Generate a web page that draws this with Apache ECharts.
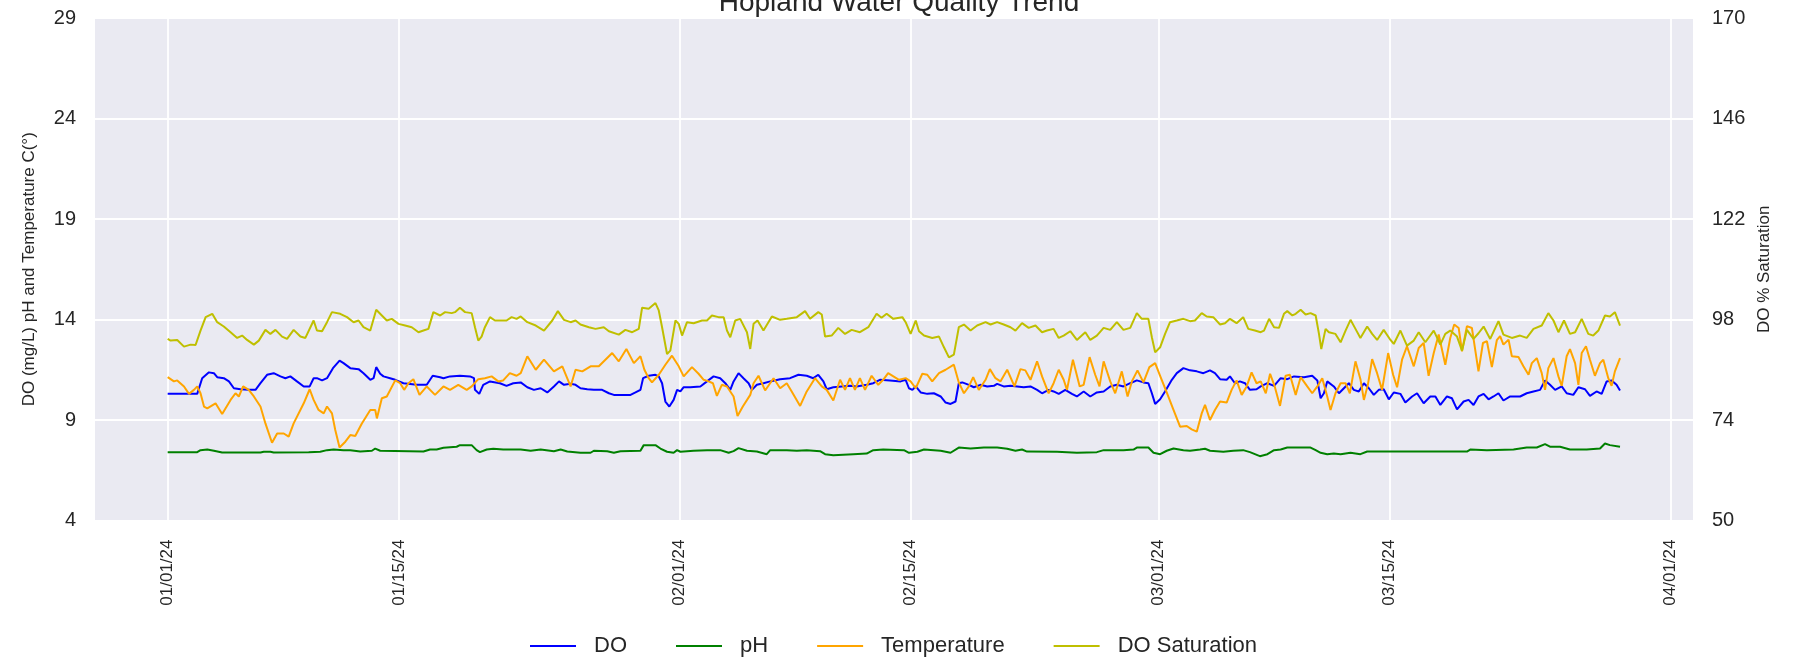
<!DOCTYPE html>
<html><head><meta charset="utf-8">
<script src="https://cdn.jsdelivr.net/npm/echarts@6/dist/echarts.min.js"></script>
<style>html,body{margin:0;padding:0;background:#fff}#c{width:1806px;height:661px}</style>
</head><body><div id="c"></div>
<script>
// x values are days since 2024-01-01
const tickDays = [0,14,31,45,60,74,91];
const tickLabels = ['01/01/24','01/15/24','02/01/24','02/15/24','03/01/24','03/15/24','04/01/24'];
const seriesNames = ['DO','pH','Temperature','DO Saturation'];

const doData = [[0,10.30],[1.79,10.30],[2.09,11.08],[2.50,11.37],[2.80,11.33],[3.00,11.13],[3.40,11.08],[3.71,10.92],[4.01,10.58],[4.41,10.53],[4.91,10.50],[5.32,10.50],[5.62,10.83],[6.02,11.25],[6.42,11.33],[6.83,11.17],[7.13,11.08],[7.43,11.17],[7.83,10.92],[8.24,10.67],[8.60,10.67],[8.84,11.08],[9.04,11.08],[9.35,10.97],[9.65,11.08],[10.01,11.58],[10.41,11.95],[10.65,11.83],[11.06,11.58],[11.56,11.53],[11.86,11.33],[12.27,11.00],[12.47,11.08],[12.63,11.63],[12.87,11.30],[13.07,11.17],[13.47,11.08],[13.78,11.00],[14.28,10.83],[15.09,10.75],[15.69,10.75],[16.05,11.20],[16.50,11.13],[16.70,11.08],[17.10,11.17],[17.70,11.20],[18.31,11.17],[18.55,11.08],[18.61,10.50],[18.87,10.30],[19.11,10.75],[19.52,10.92],[20.12,10.83],[20.52,10.70],[20.93,10.83],
[21.38,10.87],[21.78,10.63],[22.18,10.50],[22.59,10.58],[22.99,10.37],[23.39,10.67],[23.70,10.92],[24.00,10.75],[24.40,10.80],[24.70,10.75],[25.00,10.58],[25.41,10.53],[25.81,10.50],[26.31,10.50],[26.72,10.33],[27.02,10.25],[28.03,10.25],[28.33,10.37],[28.63,10.50],[28.79,11.08],[29.13,11.20],[29.54,11.25],[29.74,11.17],[29.94,10.83],[30.14,9.92],[30.38,9.67],[30.64,10.00],[30.85,10.50],[31.05,10.42],[31.25,10.63],[31.65,10.63],[32.26,10.67],[32.66,10.92],[33.06,11.17],[33.46,11.08],[33.77,10.83],[34.07,10.50],[34.27,10.92],[34.57,11.33],[34.87,11.08],[35.18,10.83],[35.38,10.50],[35.68,10.75],[36.08,10.83],[36.49,10.92],[37.09,11.03],[37.69,11.08],[38.20,11.25],[38.70,11.20],[39.10,11.08],[39.40,11.25],[39.71,10.92],[39.91,10.53],[40.31,10.63],[40.82,10.67],[41.32,10.70],[41.72,10.67],[42.33,10.75],[42.73,10.83],[43.13,11.00],[43.74,10.97],
[44.39,10.92],[44.69,11.00],[44.89,10.58],[45.10,10.50],[45.30,10.67],[45.60,10.37],[46.00,10.30],[46.40,10.33],[46.81,10.17],[47.11,9.87],[47.41,9.80],[47.71,9.92],[47.91,10.83],[48.12,10.87],[48.52,10.75],[48.82,10.63],[49.22,10.75],[49.63,10.67],[50.03,10.70],[50.23,10.80],[50.63,10.67],[51.04,10.70],[51.44,10.67],[51.84,10.63],[52.25,10.67],[52.65,10.50],[52.95,10.33],[53.35,10.50],[53.65,10.42],[53.96,10.30],[54.36,10.50],[54.76,10.30],[55.06,10.17],[55.47,10.42],[55.87,10.17],[56.27,10.37],[56.68,10.42],[57.08,10.67],[57.48,10.75],[57.88,10.67],[58.29,10.83],[58.69,10.97],[59.09,10.87],[59.39,10.83],[59.60,10.33],[59.80,9.80],[60.10,10.03],[60.40,10.42],[60.81,11.00],[61.11,11.33],[61.51,11.58],[61.91,11.47],[62.32,11.42],[62.72,11.33],[63.12,11.47],[63.42,11.33],[63.73,11.03],[64.13,11.00],[64.33,11.17],[64.63,10.83],[64.93,10.92],[65.24,10.83],[65.54,10.50],[65.94,10.53],
[66.19,10.67],[66.60,10.83],[67.00,10.70],[67.40,11.08],[67.80,11.03],[68.21,11.17],[68.81,11.13],[69.31,11.20],[69.62,10.97],[69.82,10.08],[70.02,10.33],[70.22,10.92],[70.62,10.67],[70.93,10.33],[71.23,10.58],[71.53,10.83],[71.83,10.50],[72.13,10.42],[72.44,10.83],[72.74,10.58],[73.04,10.25],[73.34,10.50],[73.64,10.53],[73.95,10.03],[74.25,10.37],[74.65,10.30],[74.95,9.87],[75.36,10.17],[75.66,10.33],[76.06,9.83],[76.46,10.17],[76.77,10.17],[77.07,9.75],[77.47,10.17],[77.77,10.08],[78.08,9.53],[78.48,9.92],[78.78,10.00],[79.08,9.75],[79.38,10.17],[79.69,10.30],[79.99,10.03],[80.29,10.17],[80.59,10.33],[80.89,9.97],[81.30,10.17],[81.90,10.17],[82.30,10.33],[82.71,10.42],[83.11,10.50],[83.41,10.97],[83.71,10.75],[84.02,10.50],[84.42,10.67],[84.72,10.33],[85.12,10.25],[85.43,10.63],[85.83,10.53],[86.13,10.20],[86.53,10.42],[86.84,10.30],[87.14,10.92],[87.44,10.97],[87.74,10.75],[87.95,10.47]];

const phData = [[0,7.40],[1.79,7.40],[1.99,7.50],[2.40,7.53],[2.80,7.47],[3.30,7.38],[5.62,7.38],[5.82,7.42],[6.22,7.42],[6.42,7.38],[8.54,7.40],[8.64,7.45],[9.24,7.42],[9.65,7.50],[10.05,7.53],[10.65,7.50],[11.06,7.50],[11.66,7.43],[12.37,7.47],[12.57,7.58],[12.87,7.47],[15.49,7.43],[15.89,7.53],[16.29,7.53],[16.70,7.62],[17.50,7.67],[17.70,7.75],[18.41,7.75],[18.71,7.50],[18.91,7.40],[19.32,7.53],[19.72,7.57],[20.32,7.53],
[21.38,7.53],[21.98,7.47],[22.59,7.53],[23.39,7.45],[23.80,7.53],[24.20,7.43],[25.00,7.37],[25.61,7.37],[25.81,7.47],[26.62,7.45],[27.02,7.37],[27.42,7.45],[28.63,7.47],[28.83,7.75],[29.54,7.75],[29.84,7.58],[30.24,7.42],[30.64,7.37],[30.85,7.50],[31.05,7.42],[31.85,7.47],[32.66,7.50],[33.46,7.50],[33.97,7.37],[34.27,7.45],[34.57,7.60],[35.08,7.47],[35.68,7.43],[36.28,7.30],[36.49,7.50],[37.49,7.50],[38.10,7.47],[38.70,7.50],[39.51,7.45],[39.81,7.30],[40.31,7.25],[41.52,7.30],[42.33,7.33],[42.73,7.50],[43.33,7.53],
[44.59,7.50],[44.89,7.37],[45.40,7.42],[45.80,7.53],[46.81,7.47],[47.41,7.37],[47.91,7.63],[48.62,7.58],[49.43,7.63],[50.23,7.63],[50.84,7.57],[51.34,7.47],[51.74,7.53],[52.04,7.43],[53.86,7.42],[55.06,7.37],[56.27,7.40],[56.68,7.50],[57.88,7.50],[58.49,7.53],[58.69,7.63],[59.39,7.63],[59.70,7.37],[60.10,7.30],[60.50,7.47],[60.91,7.58],[61.51,7.50],[61.91,7.47],[62.52,7.53],[62.82,7.57],[63.12,7.47],[63.93,7.42],[64.53,7.47],[65.13,7.50],[65.54,7.40],[66.14,7.20],
[66.60,7.30],[67.00,7.50],[67.40,7.53],[67.80,7.63],[69.21,7.63],[69.52,7.50],[69.82,7.37],[70.22,7.30],[70.62,7.33],[71.03,7.30],[71.63,7.37],[72.23,7.30],[72.64,7.43],[78.68,7.43],[78.88,7.53],[79.89,7.50],[81.50,7.53],[82.30,7.63],[82.91,7.63],[83.41,7.80],[83.71,7.67],[84.32,7.67],[84.92,7.53],[85.93,7.53],[86.74,7.58],[87.04,7.83],[87.34,7.75],[87.95,7.67]];

const tempData = [[0,11.13],[0.38,10.92],[0.58,10.97],[0.99,10.67],[1.29,10.30],[1.59,10.50],[1.79,10.67],[1.99,10.33],[2.20,9.67],[2.40,9.58],[2.90,9.83],[3.30,9.30],[3.81,10.00],[4.11,10.33],[4.31,10.17],[4.57,10.67],[4.91,10.50],[5.22,10.17],[5.62,9.67],[5.92,8.83],[6.32,7.87],[6.63,8.33],[7.03,8.33],[7.33,8.17],[7.63,8.83],[8.24,9.83],[8.60,10.53],[8.84,10.00],[9.14,9.50],[9.45,9.33],[9.65,9.67],[9.95,9.33],[10.15,8.50],[10.41,7.63],[10.76,7.92],[11.06,8.25],[11.36,8.20],[11.76,8.83],[12.27,9.50],[12.57,9.50],[12.67,9.08],[12.97,10.08],[13.27,10.17],[13.78,10.97],[14.08,10.83],[14.32,10.50],[14.58,10.83],[14.88,11.03],[15.25,10.25],[15.69,10.67],[16.19,10.25],[16.70,10.67],[17.10,10.50],[17.60,10.75],[18.11,10.50],[18.41,10.67],[18.81,11.03],[19.21,11.08],[19.62,11.17],[20.02,10.92],[20.32,10.97],[20.72,11.33],[21.13,11.20],
[21.38,11.33],[21.78,12.17],[22.29,11.50],[22.79,12.00],[23.39,11.42],[23.90,11.67],[24.40,10.67],[24.70,11.50],[25.11,11.42],[25.61,11.67],[26.11,11.67],[26.92,12.33],[27.32,11.92],[27.78,12.53],[28.23,11.83],[28.63,12.17],[28.87,11.50],[29.13,11.08],[29.33,10.87],[29.74,11.25],[30.14,11.75],[30.54,12.20],[30.95,11.67],[31.25,11.17],[31.75,11.63],[32.15,11.30],[32.46,11.00],[32.76,10.92],[33.02,10.83],[33.26,10.20],[33.56,10.75],[33.87,10.67],[34.27,10.17],[34.51,9.20],[34.83,9.67],[35.28,10.25],[35.48,10.83],[35.78,11.20],[36.18,10.47],[36.69,11.08],[37.09,10.58],[37.49,10.83],[37.79,10.42],[38.30,9.70],[38.70,10.42],[39.20,11.08],[39.61,10.67],[39.91,10.50],[40.31,9.97],[40.72,11.00],[41.02,10.50],[41.32,11.08],[41.62,10.50],[41.92,11.08],[42.23,10.50],[42.63,11.20],[43.03,10.75],[43.33,11.00],[43.63,11.33],
[44.29,11.00],[44.69,11.08],[44.99,10.92],[45.30,10.58],[45.70,11.30],[46.00,11.25],[46.30,10.92],[46.71,11.33],[47.11,11.50],[47.61,11.75],[47.91,10.87],[48.22,10.33],[48.52,10.67],[48.78,11.13],[49.12,10.50],[49.53,11.00],[49.79,11.53],[50.13,11.08],[50.43,10.92],[50.84,11.50],[51.28,10.67],[51.64,11.53],[51.94,11.47],[52.25,11.00],[52.65,11.92],[52.95,11.17],[53.35,10.33],[53.65,10.83],[53.96,11.50],[54.26,11.00],[54.46,10.50],[54.82,12.00],[55.23,10.67],[55.47,10.75],[55.83,12.13],[56.17,11.25],[56.43,10.67],[56.68,11.92],[57.08,10.92],[57.38,10.33],[57.78,11.42],[58.13,10.17],[58.39,10.92],[58.73,11.47],[59.09,10.87],[59.45,11.63],[59.80,11.83],[60.10,11.20],[60.50,10.37],[60.91,9.50],[61.31,8.67],[61.71,8.70],[62.01,8.53],[62.32,8.42],[62.62,9.33],[62.82,9.75],[63.12,9.00],[63.42,9.50],[63.73,9.92],[64.13,9.87],[64.43,10.50],[64.73,10.97],[65.04,10.25],[65.34,10.67],[65.64,11.37],[65.94,10.83],
[66.19,10.92],[66.50,10.33],[66.76,11.30],[67.04,10.67],[67.36,9.70],[67.70,11.20],[67.96,11.25],[68.31,10.25],[68.61,11.13],[69.01,10.67],[69.31,10.33],[69.62,10.67],[69.92,11.08],[70.22,10.17],[70.42,9.50],[70.72,10.33],[71.03,10.83],[71.33,10.83],[71.59,10.33],[71.93,11.92],[72.23,11.03],[72.44,10.00],[72.68,10.75],[72.94,12.03],[73.24,11.33],[73.54,10.50],[73.91,12.33],[74.21,11.25],[74.45,10.63],[74.75,12.00],[75.05,12.67],[75.46,11.67],[75.76,12.58],[76.06,12.83],[76.36,11.20],[76.67,12.33],[76.97,13.25],[77.37,11.75],[77.67,13.08],[77.91,13.75],[78.18,13.58],[78.38,12.42],[78.68,13.67],[78.98,13.58],[79.38,11.42],[79.65,12.83],[79.89,12.92],[80.19,11.63],[80.49,12.97],[80.69,13.17],[80.89,12.75],[81.20,13.00],[81.40,12.17],[81.80,12.13],[82.10,11.67],[82.41,11.25],[82.61,11.83],[82.91,12.08],[83.21,11.33],[83.41,10.50],[83.61,11.58],[83.92,12.08],[84.22,11.17],[84.42,10.70],[84.72,12.17],[84.92,12.53],[85.23,11.83],[85.43,10.75],[85.63,12.33],[85.89,12.67],[86.13,12.00],[86.43,11.20],[86.74,11.83],[86.94,12.00],[87.24,11.08],[87.44,10.70],[87.64,11.42],[87.95,12.08]];

const satData = [[0,93.36],[0.18,92.96],[0.58,93.12],[0.99,91.52],[1.39,92.00],[1.69,91.92],[1.99,95.36],[2.30,98.56],[2.70,99.36],[3.00,97.36],[3.40,96.32],[3.81,94.96],[4.21,93.60],[4.51,94.16],[4.81,93.12],[5.22,92.00],[5.52,92.96],[5.92,95.52],[6.22,94.56],[6.53,95.52],[6.93,93.92],[7.23,93.36],[7.63,95.52],[8.04,93.92],[8.34,93.60],[8.84,97.76],[9.04,95.36],[9.35,95.20],[9.65,97.36],[9.95,99.76],[10.45,99.36],[10.86,98.56],[11.26,97.36],[11.56,97.76],[11.86,96.16],[12.27,95.36],[12.63,100.32],[12.97,98.96],[13.27,97.76],[13.57,98.16],[13.98,96.96],[14.38,96.56],[14.78,96.16],[15.19,94.96],[15.49,95.36],[15.79,95.76],[16.09,99.76],[16.50,98.96],[16.80,99.76],[17.20,99.52],[17.40,99.76],[17.70,100.80],[18.01,99.76],[18.41,99.52],[18.61,96.16],[18.81,92.96],[19.01,93.92],[19.21,96.16],[19.52,98.56],[19.82,97.76],[20.12,97.76],[20.52,97.76],[20.83,98.56],[21.13,98.16],
[21.38,98.72],[21.78,97.36],[22.29,96.56],[22.79,95.36],[23.29,97.76],[23.63,100.00],[24.00,97.92],[24.40,97.36],[24.70,97.76],[25.00,96.80],[25.51,96.16],[25.91,95.76],[26.41,96.16],[26.72,95.20],[27.32,94.40],[27.72,95.52],[28.13,94.96],[28.53,95.76],[28.73,100.80],[29.13,100.56],[29.54,101.92],[29.74,100.16],[29.94,96.16],[30.24,89.76],[30.44,90.56],[30.75,97.76],[30.95,96.96],[31.15,94.16],[31.45,97.36],[31.85,97.12],[32.36,97.76],[32.66,97.76],[32.96,98.96],[33.36,98.56],[33.67,98.56],[33.87,95.36],[34.07,93.76],[34.37,97.76],[34.67,98.16],[35.08,94.96],[35.28,90.96],[35.48,96.96],[35.72,97.76],[36.08,95.36],[36.59,98.72],[37.09,97.92],[37.49,98.16],[38.10,98.56],[38.60,100.00],[38.90,98.16],[39.40,99.76],[39.61,99.20],[39.81,93.92],[40.21,94.16],[40.61,96.00],[41.02,94.56],[41.42,95.52],[41.92,94.96],[42.43,96.16],[42.93,99.36],[43.23,98.40],[43.54,99.36],[43.94,98.16],
[44.49,98.56],[44.69,97.36],[44.99,94.56],[45.30,97.76],[45.50,95.20],[45.80,94.16],[46.30,93.60],[46.71,93.92],[47.01,91.36],[47.31,88.96],[47.61,89.60],[47.91,96.16],[48.22,96.80],[48.62,95.36],[49.02,96.56],[49.53,97.36],[49.83,96.80],[50.23,97.36],[50.63,96.80],[51.04,96.16],[51.34,95.36],[51.74,97.12],[52.14,96.00],[52.55,96.56],[52.95,94.96],[53.25,95.36],[53.65,95.76],[53.96,93.60],[54.26,94.16],[54.66,95.20],[55.06,93.12],[55.57,94.96],[55.87,93.12],[56.27,94.16],[56.68,96.00],[57.08,95.52],[57.48,97.36],[57.88,95.52],[58.29,96.00],[58.69,99.52],[58.99,98.16],[59.39,98.16],[59.60,93.76],[59.80,90.16],[60.10,91.36],[60.40,94.56],[60.70,97.36],[61.11,97.76],[61.51,98.16],[61.91,97.60],[62.21,97.76],[62.62,99.52],[62.92,98.72],[63.32,98.56],[63.73,96.80],[64.03,97.12],[64.33,98.16],[64.73,97.12],[65.13,98.56],[65.44,95.76],[65.84,95.36],
[66.19,94.96],[66.39,95.36],[66.70,98.16],[67.00,96.16],[67.30,96.00],[67.60,99.36],[67.80,100.00],[68.11,98.96],[68.31,99.36],[68.61,100.32],[68.91,99.20],[69.21,99.52],[69.52,98.96],[69.72,94.56],[69.86,90.96],[70.12,95.76],[70.32,94.96],[70.72,94.56],[71.03,92.56],[71.33,95.36],[71.63,97.92],[71.93,95.76],[72.23,93.60],[72.64,96.32],[72.94,94.56],[73.24,93.12],[73.64,95.52],[74.05,93.12],[74.25,92.16],[74.65,95.36],[75.05,91.76],[75.46,92.96],[75.76,94.96],[76.16,92.56],[76.67,95.36],[77.07,92.00],[77.37,94.56],[77.67,95.36],[78.08,93.92],[78.38,90.56],[78.68,95.52],[79.08,93.36],[79.38,94.72],[79.69,96.32],[80.09,93.36],[80.59,97.60],[80.89,94.40],[81.40,93.60],[81.90,94.16],[82.30,93.60],[82.71,95.76],[83.21,96.56],[83.61,99.52],[83.92,97.76],[84.22,94.96],[84.56,97.76],[84.92,94.56],[85.23,94.96],[85.63,98.16],[86.03,94.56],[86.33,94.16],[86.64,95.36],[87.04,98.96],[87.34,98.72],[87.64,99.76],[87.95,96.56]];

const FONT = '"Liberation Sans", Arial, Helvetica, sans-serif';
const TXT = '#262626';
const chart = echarts.init(document.getElementById('c'), null, {renderer: 'canvas'});
const lineSeries = (name, data, color, axis, z) => ({
  name, type: 'line', data, yAxisIndex: axis, showSymbol: false, symbol: 'none',
  lineStyle: {color, width: 2}, itemStyle: {color}, z, animation: false
});
chart.setOption({
  animation: false,
  backgroundColor: '#ffffff',
  title: {
    text: 'Hopland Water Quality Trend', left: 894, top: -16, textAlign: 'center',
    textStyle: {fontFamily: FONT, fontSize: 28, fontWeight: 'normal', color: TXT}
  },
  legend: {
    data: seriesNames.map(n => ({name: n, icon: 'rect'})),
    left: 525, top: 630, itemWidth: 46, itemHeight: 2, itemGap: 49,
    textStyle: {fontFamily: FONT, fontSize: 22, color: TXT, padding: [0, 0, 0, 13]}
  },
  grid: {left: 95, right: 113, top: 18, bottom: 140.5, show: true, backgroundColor: '#EAEAF2', borderWidth: 0, containLabel: false},
  xAxis: {
    type: 'value', min: -4.40, max: 92.37,
    axisLine: {show: false},
    axisTick: {show: false, customValues: tickDays},
    axisLabel: {
      customValues: tickDays, rotate: 90, margin: 19,
      fontFamily: FONT, fontSize: 17, color: TXT,
      formatter: v => tickLabels[tickDays.indexOf(v)] || ''
    },
    splitLine: {show: true, lineStyle: {color: '#ffffff', width: 1.8}}
  },
  yAxis: [
    {
      type: 'value', min: 4, max: 29, interval: 5, position: 'left',
      name: 'DO (mg/L) pH and Temperature C(°)', nameLocation: 'middle', nameGap: 57, nameRotate: 90,
      nameTextStyle: {fontFamily: FONT, fontSize: 17, color: TXT},
      axisLine: {show: false}, axisTick: {show: false},
      axisLabel: {margin: 19, fontFamily: FONT, fontSize: 20, color: TXT},
      splitLine: {show: true, lineStyle: {color: '#ffffff', width: 1.8}}
    },
    {
      type: 'value', min: 50, max: 170, interval: 24, position: 'right',
      name: 'DO % Saturation', nameLocation: 'middle', nameGap: 62, nameRotate: 90,
      nameTextStyle: {fontFamily: FONT, fontSize: 17, color: TXT},
      axisLine: {show: false}, axisTick: {show: false},
      axisLabel: {margin: 19, fontFamily: FONT, fontSize: 20, color: TXT},
      splitLine: {show: false}
    }
  ],
  series: [
    lineSeries('DO', doData, '#0000ff', 0, 2),
    lineSeries('pH', phData, '#008000', 0, 3),
    lineSeries('Temperature', tempData, '#ffa500', 0, 4),
    lineSeries('DO Saturation', satData, '#bfbf00', 1, 5)
  ]
});
</script></body></html>
